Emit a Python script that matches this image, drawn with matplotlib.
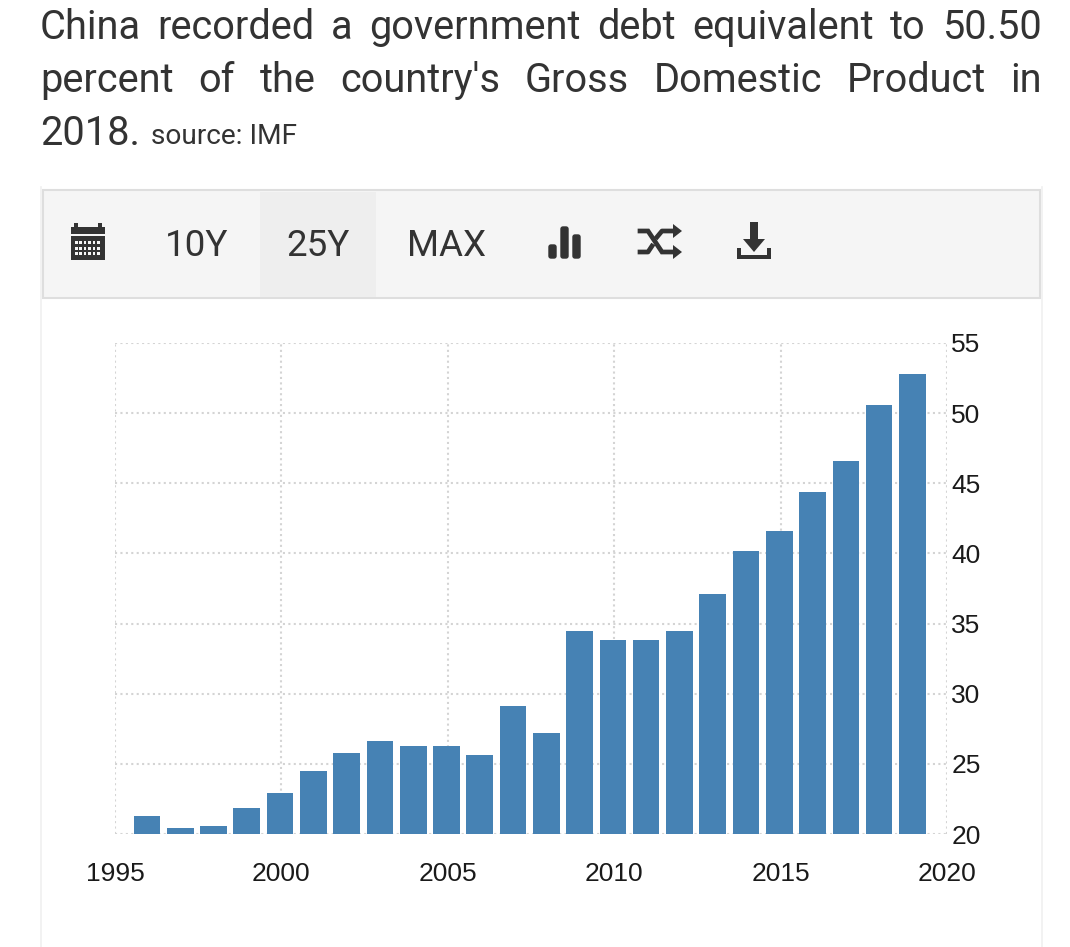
import matplotlib
matplotlib.use("Agg")
import matplotlib.pyplot as plt
from matplotlib.patches import Rectangle, Polygon, FancyBboxPatch

W, H = 1070, 947
years = list(range(1996, 2020))
debt = [21.3, 20.4, 20.6, 21.85, 22.9, 24.5, 25.8, 26.6, 26.3, 26.3, 25.6, 29.1,
        27.2, 34.5, 33.8, 33.8, 34.5, 37.1, 40.2, 41.6, 44.4, 46.6, 50.6, 52.8]
x_ticks = [1995, 2000, 2005, 2010, 2015, 2020]
y_ticks = [20, 25, 30, 35, 40, 45, 50, 55]
title_lines = ["China recorded a government debt equivalent to 50.50",
               "percent of the country's Gross Domestic Product in"]
title_last = "2018."
source = "source: IMF"
buttons = ["10Y", "25Y", "MAX"]

INK = "#333333"
fig = plt.figure(figsize=(W / 100, H / 100), dpi=100, facecolor="white")

# overlay in pixel coordinates
ov = fig.add_axes([0, 0, 1, 1], zorder=0)
ov.set_xlim(0, W); ov.set_ylim(H, 0); ov.axis("off")

# title, justified word by word
renderer = fig.canvas.get_renderer()
TFS = 28.6
def tw(s):
    t = ov.text(0, 0, s, fontsize=TFS, family="Roboto")
    w = t.get_window_extent(renderer).width
    t.remove()
    return w
for line, base in zip(title_lines, (39, 92)):
    words = line.split(" ")
    widths = [tw(w) for w in words]
    gap = (1042 - 40 - sum(widths)) / (len(words) - 1)
    x = 40
    for word, w in zip(words, widths):
        ov.text(x, base, word, fontsize=TFS, family="Roboto", color=INK, va="baseline")
        x += w + gap
ov.text(40, 145, title_last, fontsize=TFS, family="Roboto", color=INK, va="baseline")
ov.text(151, 144, source, fontsize=20.2, family="Roboto", color=INK, va="baseline")

# outer frame and toolbar
ov.plot([40.5, 40.5], [187, H], color="#f0f0f0", lw=1.2)
ov.plot([1041.5, 1041.5], [187, H], color="#f0f0f0", lw=1.2)
ov.add_patch(Rectangle((43, 190), 997, 108, fc="#f5f5f5", ec="#dedede", lw=1.5))
ov.add_patch(Rectangle((260, 192), 116, 105, fc="#eeeeee", ec="none"))
for label, xc in zip(buttons, (197, 318, 447)):
    ov.text(xc, 256, label, fontsize=26.5, family="Roboto", color=INK,
            ha="center", va="baseline")

# calendar icon
ov.add_patch(Rectangle((71, 227), 34, 7, fc=INK, ec="none"))
ov.add_patch(Rectangle((74, 223), 4, 5, fc=INK, ec="none"))
ov.add_patch(Rectangle((98, 223), 4, 5, fc=INK, ec="none"))
ov.add_patch(Rectangle((71, 236), 34, 24, fc=INK, ec="none"))
for r in range(3):
    for c in range(6):
        ov.add_patch(Rectangle((75 + c * 4.4, 241 + r * 5.5), 2.6, 3, fc="#f5f5f5", ec="none"))

# bars icon
for x0, top in ((548, 244), (560, 226), (572, 234)):
    ov.add_patch(FancyBboxPatch((x0 + 1, top + 1), 7, 258 - top - 1,
                                boxstyle="round,pad=0,rounding_size=2", fc=INK, ec=INK, lw=1))

# shuffle icon
ov.plot([640, 648, 662, 674], [231, 231, 252, 252], color=INK, lw=3.4, solid_joinstyle="miter")
ov.plot([640, 648, 652], [252, 252, 246], color=INK, lw=3.4)
ov.plot([657, 662, 674], [237, 231, 231], color=INK, lw=3.4)
ov.add_patch(Polygon([[673, 224], [682, 231], [673, 238]], fc=INK, ec="none"))
ov.add_patch(Polygon([[673, 245], [682, 252], [673, 259]], fc=INK, ec="none"))

# download icon
ov.add_patch(Rectangle((750, 222), 8, 19, fc=INK, ec="none"))
ov.add_patch(Polygon([[743, 239], [765, 239], [754, 252]], fc=INK, ec="none"))
ov.add_patch(Polygon([[737, 248], [741, 248], [741, 255], [767, 255], [767, 248], [771, 248],
                      [771, 259], [737, 259]], fc=INK, ec="none"))

# chart
L, R, T, B = 115, 947, 343, 834
ax = fig.add_axes([L / W, 1 - B / H, (R - L) / W, (B - T) / H], zorder=1)
ax.patch.set_alpha(0)
ax.bar([y - 0.04 for y in years], debt, width=0.8, color="#4682b4", zorder=3)
ax.set_xlim(1995, 2020); ax.set_ylim(20, 55)
ax.set_xticks(x_ticks); ax.set_yticks(y_ticks)
ax.yaxis.tick_right()
ax.grid(True, color="#d4d4d4", linestyle=(0, (1, 1.6)), linewidth=1.5, zorder=0)
ax.set_axisbelow(True)
for s in ax.spines.values():
    s.set_visible(False)
ax.tick_params(axis="both", length=0)
ax.tick_params(axis="x", pad=29, labelsize=19, labelcolor="#1a1a1a")
ax.tick_params(axis="y", pad=3, labelsize=19, labelcolor="#1a1a1a")
for t in ax.get_xticklabels() + ax.get_yticklabels():
    t.set_fontfamily("Liberation Sans")
for lab in ax.get_xticklabels():
    lab.set_va("center")

fig.savefig("out.png", dpi=100)
